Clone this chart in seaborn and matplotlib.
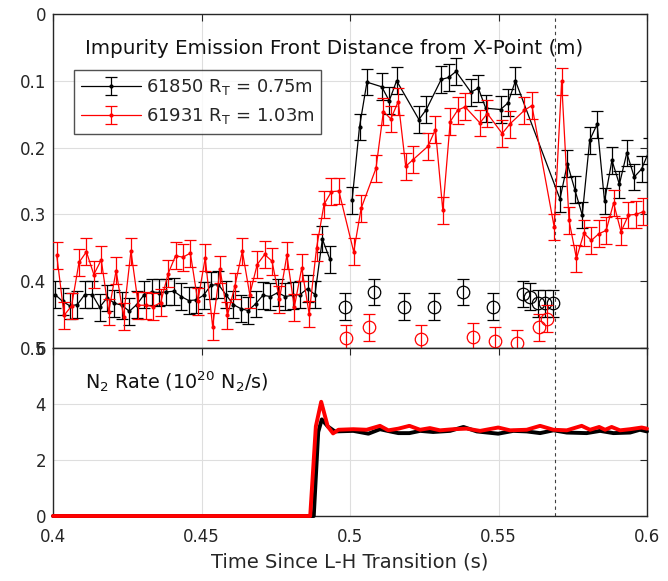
import numpy as np
import pandas as pd
import matplotlib
matplotlib.use("Agg")
import matplotlib.pyplot as plt
import seaborn as sns
from matplotlib.ticker import FuncFormatter

# ---------------- data ----------------
nan = np.nan
# shot 61850 (black): sample index (2.5 ms clock) and front distance (m)
black_t0 = 0.4007
black_sample = list(range(0, 39)) + [40, 41, 42, 44, 45, 46, 49, 50, 52, 53, 54, 56, 57, 58,
                                     60, 61, 62, 68, 69, 70, 71, 72, 73, 74, 75, 76, 77, 78, 79, 80]
black_front = [0.420, 0.430, 0.437, 0.435, 0.420, 0.420, 0.439, 0.425, 0.433, 0.436,
               0.445, 0.435, 0.420, 0.416, 0.417, 0.416, 0.415, 0.423, 0.429, 0.428,
               0.421, 0.406, 0.405, 0.420, 0.435, 0.441, 0.444, 0.434, 0.421, 0.423,
               0.417, 0.423, 0.421, 0.420, 0.411, 0.420, 0.337, 0.367, nan,
               0.279, 0.169, 0.102, 0.109, 0.130, 0.100, 0.158, 0.143, 0.098, 0.095,
               0.086, 0.117, 0.111, 0.141, 0.143, 0.133, 0.100,
               0.277, 0.224, 0.263, 0.301, 0.189, 0.165, 0.280, 0.219, 0.255, 0.208,
               0.244, 0.232, 0.205]
black_circ_sample = [39, 43, 47, 51, 55, 59, 63, 64, 65, 66, 67]
black_circ_front = [0.438, 0.416, 0.438, 0.438, 0.416, 0.438, 0.419, 0.423, 0.433, 0.433, 0.433]

# shot 61931 (red)
red_t0 = 0.40125
red_sample = list(range(0, 39)) + [40, 41, 43, 44, 45, 46, 47, 48, 50, 51, 52, 53, 54, 55,
                                   57, 58, 60, 61, 63, 64, 67, 68, 69, 70, 71, 72, 73, 74,
                                   75, 76, 77, 78, 79]
red_front = [0.361, 0.451, 0.437, 0.372, 0.356, 0.390, 0.368, 0.446, 0.384, 0.453,
             0.355, 0.436, 0.436, 0.438, 0.432, 0.389, 0.362, 0.364, 0.358, 0.430,
             0.365, 0.468, 0.382, 0.451, 0.407, 0.355, 0.420, 0.375, 0.360, 0.370,
             0.427, 0.361, 0.439, 0.380, 0.449, 0.350, 0.285, 0.266, 0.265,
             0.356, 0.291, 0.231, 0.146, 0.157, 0.131, 0.228, 0.218, 0.198, 0.173,
             0.294, 0.161, 0.144, 0.139, 0.163, 0.149, 0.179, 0.165, 0.144, 0.137,
             0.319, 0.101, 0.309, 0.366, 0.328, 0.339, 0.329, 0.324, 0.283, 0.326,
             0.301, 0.300, 0.296]
red_circ_sample = [39, 42, 49, 56, 59, 62, 65, 66]
red_circ_front = [0.485, 0.469, 0.486, 0.483, 0.489, 0.493, 0.469, 0.456]

sample_dt = 0.0025
front_err = 0.02

# N2 rate (1e20 N2/s)
n2_black_time = [0.400, 0.4878, 0.4893, 0.4905, 0.4925, 0.4949, 0.5011, 0.5062, 0.5101,
                 0.5135, 0.5163, 0.5200, 0.5236, 0.5280, 0.5337, 0.5382, 0.5427, 0.5499,
                 0.5550, 0.5595, 0.5640, 0.5685, 0.5730, 0.5797, 0.5842, 0.5887, 0.5943,
                 0.5976, 0.6000]
n2_black_rate = [0.0, 0.0, 3.00, 3.45, 3.20, 3.02, 3.04, 2.94, 3.10,
                 3.02, 2.96, 2.96, 3.04, 3.00, 3.04, 3.18, 3.02, 2.94,
                 3.04, 3.02, 2.96, 3.06, 2.98, 2.96, 3.04, 2.96, 2.98,
                 3.08, 3.02]
n2_red_time = [0.400, 0.4866, 0.4885, 0.4903, 0.4925, 0.4943, 0.4961, 0.5011, 0.5056,
               0.5101, 0.5129, 0.5163, 0.5200, 0.5236, 0.5269, 0.5303, 0.5348, 0.5393,
               0.5438, 0.5499, 0.5539, 0.5595, 0.5640, 0.5685, 0.5730, 0.5780, 0.5808,
               0.5839, 0.5859, 0.5881, 0.5909, 0.5943, 0.5982, 0.6000]
n2_red_rate = [0.0, 0.0, 3.20, 4.08, 3.20, 2.95, 3.08, 3.10, 3.08,
               3.22, 3.06, 3.12, 3.22, 3.08, 3.14, 3.06, 3.10, 3.12,
               3.04, 3.16, 3.06, 3.08, 3.22, 3.08, 3.06, 3.22, 3.08,
               3.18, 3.08, 3.18, 3.06, 3.10, 3.16, 3.12]

lh_marker_time = 0.569

# ---------------- style ----------------
sns.set_theme(style="white")
plt.rcParams['font.family'] = ['DejaVu Sans']
plt.rcParams['mathtext.fontset'] = 'dejavusans'

W, H = 668, 581
fig = plt.figure(figsize=(W / 100, H / 100), dpi=100)
L, R = 53, 647
ax1 = fig.add_axes([L / W, 1 - 348 / H, (R - L) / W, (348 - 14) / H])
ax2 = fig.add_axes([L / W, 1 - 516 / H, (R - L) / W, (516 - 348) / H])

fmt = FuncFormatter(lambda v, p: ('%g' % round(v, 3)))
for ax in (ax1, ax2):
    ax.set_facecolor('white')
    for s in ax.spines.values():
        s.set_color('#262626')
        s.set_linewidth(1.0)
    ax.tick_params(direction='in', length=5, width=0.8, top=True, right=True,
                   labelsize=12, colors='#262626', pad=5)
    ax.grid(True, color='#dedede', lw=0.8)
    ax.set_axisbelow(True)
    ax.set_xlim(0.4, 0.6)
    ax.set_xticks([0.4, 0.45, 0.5, 0.55, 0.6])
    ax.xaxis.set_major_formatter(fmt)
    ax.yaxis.set_major_formatter(fmt)
    ax.axvline(lh_marker_time, color='#404040', ls=(0, (3, 3)), lw=0.8, zorder=1)

# ---------------- top panel ----------------
bt = black_t0 + sample_dt * np.array(black_sample)
rt = red_t0 + sample_dt * np.array(red_sample)
bct = black_t0 + sample_dt * np.array(black_circ_sample)
rct = red_t0 + sample_dt * np.array(red_circ_sample)

eb_kw = dict(capsize=4, elinewidth=0.9, capthick=0.9, lw=0.9, marker='.', ms=4)
hb = ax1.errorbar(bt, black_front, yerr=front_err, color='black', zorder=3,
                  label=r'61850 R$_\mathrm{T}$ = 0.75m', **eb_kw)
hr = ax1.errorbar(rt, red_front, yerr=front_err, color='red', zorder=4,
                  label=r'61931 R$_\mathrm{T}$ = 1.03m', **eb_kw)
circ_kw = dict(fmt='o', mfc='none', ms=9, mew=0.9, capsize=4, elinewidth=0.9, capthick=0.9)
ax1.errorbar(bct, black_circ_front, yerr=front_err, mec='black', color='black', zorder=3, **circ_kw)
ax1.errorbar(rct, red_circ_front, yerr=front_err, mec='red', color='red', zorder=4, **circ_kw)

ax1.set_ylim(0.5, 0.0)
ax1.set_yticks([0, 0.1, 0.2, 0.3, 0.4, 0.5])
ax1.tick_params(labelbottom=False)
ax1.text((85 - L) / (R - L), 0.898, 'Impurity Emission Front Distance from X-Point (m)',
         transform=ax1.transAxes, fontsize=14.3, va='center', ha='left', color='#111111')
leg = ax1.legend(handles=[hb, hr], loc='upper left', bbox_to_anchor=(0.035, 0.832),
                 borderaxespad=0, frameon=True, fancybox=False, edgecolor='#262626',
                 fontsize=13, handlelength=3.3, handletextpad=0.3, borderpad=0.4,
                 labelspacing=0.5)
leg.get_frame().set_linewidth(1.0)

# ---------------- bottom panel ----------------
df_b = pd.DataFrame({'time': n2_black_time, 'rate': n2_black_rate})
df_r = pd.DataFrame({'time': n2_red_time, 'rate': n2_red_rate})
sns.lineplot(data=df_b, x='time', y='rate', ax=ax2, color='black', lw=2.8, zorder=3)
sns.lineplot(data=df_r, x='time', y='rate', ax=ax2, color='red', lw=2.8, zorder=4)
for ln in ax2.lines:
    ln.set_clip_on(False)
    ln.set_solid_joinstyle('round')
ax2.set_ylim(0, 6)
ax2.set_yticks([0, 2, 4, 6])
ax2.set_ylabel('')
ax2.tick_params(axis='x', pad=9)
ax2.set_xlabel('Time Since L-H Transition (s)', fontsize=14, color='#262626', labelpad=4)
ax2.text((85 - L) / (R - L), 0.80, r'N$_2$ Rate (10$^{20}$ N$_2$/s)',
         transform=ax2.transAxes, fontsize=13.8, va='center', ha='left', color='#111111')

fig.savefig('out.png', dpi=100)
